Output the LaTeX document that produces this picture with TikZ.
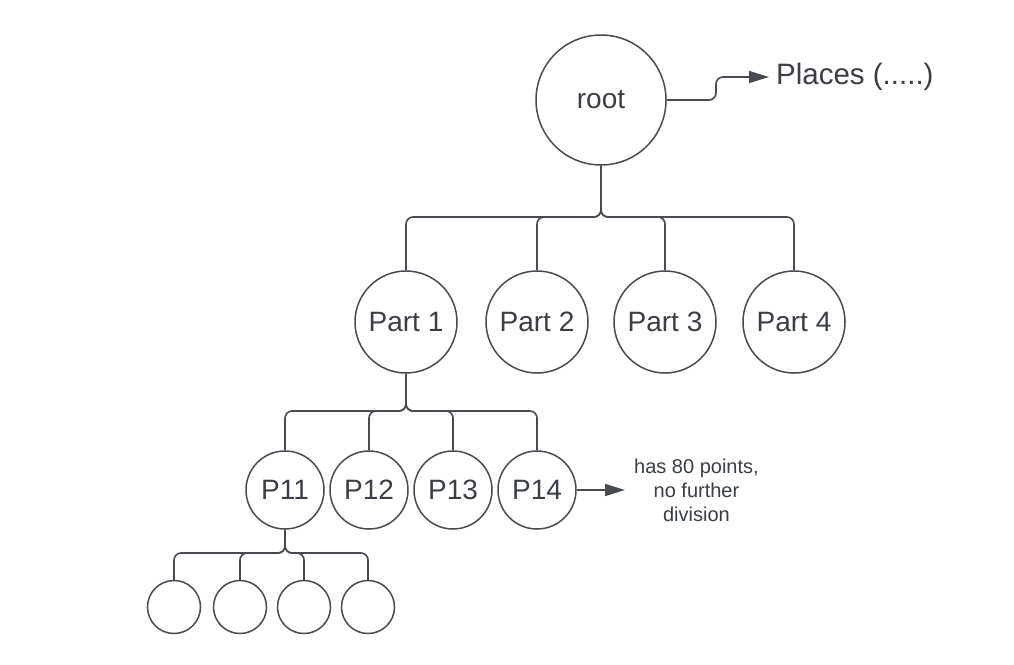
\documentclass[tikz,border=0pt]{standalone}
\usepackage{fontspec}
\setmainfont{Liberation Sans}
\usetikzlibrary{arrows.meta,calc}
\definecolor{linec}{HTML}{474C54}
\definecolor{textc}{HTML}{3A3F47}
\begin{document}
\begin{tikzpicture}[x=1pt,y=-1pt,
  nd/.style={circle,draw=linec,line width=1.5pt,inner sep=0pt,text=textc,font=\fontsize{28}{33}\selectfont},
  big/.style={nd,minimum size=130pt},
  mid/.style={nd,minimum size=102pt},
  sml/.style={nd,minimum size=78pt},
  leaf/.style={nd,minimum size=53pt},
  conn/.style={draw=linec,line width=1.6pt,rounded corners=7pt},
  arr/.style={conn,-{Triangle[length=20pt,width=12pt]}},
  lbl/.style={text=textc,inner sep=0pt}
]
\fill[white] (0,0) rectangle (1014,664);
\useasboundingbox (0,0) rectangle (1014,664);

\node[big] (root) at (601,100) {root};
\node[mid] (p1) at (406,322) {Part 1};
\node[mid] (p2) at (537,322) {Part 2};
\node[mid] (p3) at (665,322) {Part 3};
\node[mid] (p4) at (794,322) {Part 4};
\node[sml] (q1) at (285,490) {P11};
\node[sml] (q2) at (369,490) {P12};
\node[sml] (q3) at (453,490) {P13};
\node[sml] (q4) at (537,490) {P14};
\node[leaf] (l1) at (174,607) {};
\node[leaf] (l2) at (240,607) {};
\node[leaf] (l3) at (304,607) {};
\node[leaf] (l4) at (368,607) {};

\node[lbl,anchor=west,inner xsep=7pt,font=\fontsize{29.5}{34}\selectfont] (places) at (769,77) {Places (.....)};
\node[lbl,anchor=west,inner xsep=9pt,align=center,font=\fontsize{20}{24}\selectfont] (note) at (625,490) {has 80 points,\\no further\\division};

\coordinate (b0) at (601,217);
\coordinate (b1) at (406,411);
\coordinate (b2) at (285,553);
\coordinate (k) at (716,100);

\foreach \c in {p1,p2,p3,p4} \draw[conn] (root.south) -- (b0) -| (\c.north);
\foreach \c in {q1,q2,q3,q4} \draw[conn] (p1.south) -- (b1) -| (\c.north);
\foreach \c in {l1,l2,l3,l4} \draw[conn] (q1.south) -- (b2) -| (\c.north);

\draw[arr] (root.east) -- (k) |- (places.west);
\draw[arr] (q4.east) -- (note.west);
\end{tikzpicture}
\end{document}
